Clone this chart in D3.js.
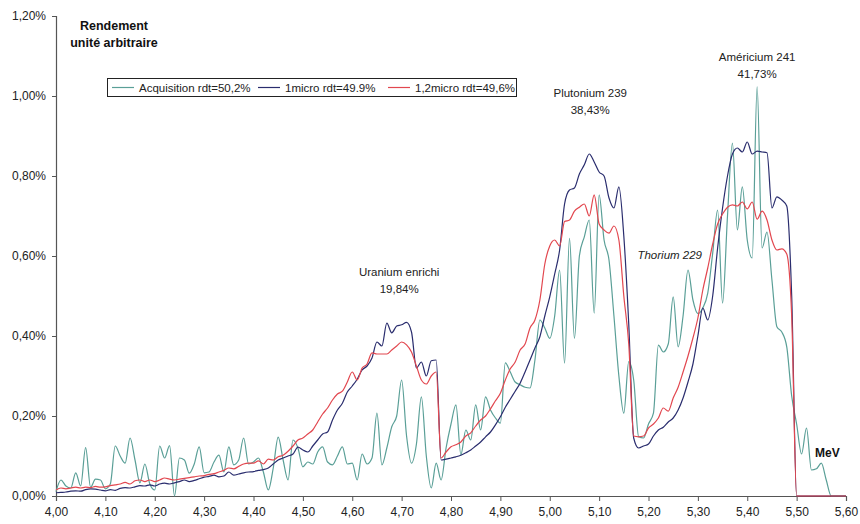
<!DOCTYPE html>
<html><head><meta charset="utf-8">
<script src="https://cdn.jsdelivr.net/npm/d3@7"></script>
<style>
html,body{margin:0;padding:0;background:#fff;}
svg{display:block;font-family:"Liberation Sans",Arial,sans-serif;}
</style></head>
<body>
<svg id="chart" width="860" height="524"></svg>
<script>
// Energy axis (MeV), one sample every 0.01 MeV from 4.00 to 5.60
const energies = d3.range(400, 561).map(d => d / 100);

// Acquisition rdt=50,2%  (% per channel)
const acquisition = [
0.011,0.040,0.025,0.020,0.058,0.025,0.121,0.022,0.042,0.040,
0.018,0.030,0.125,0.100,0.082,0.145,0.090,0.033,0.080,0.030,
0.015,0.125,0.095,0.126,0.000,0.095,0.090,0.057,0.080,0.123,
0.058,0.060,0.085,0.102,0.060,0.123,0.078,0.090,0.145,0.080,
0.085,0.095,0.060,0.015,0.070,0.147,0.090,0.040,0.140,0.120,
0.073,0.085,0.080,0.110,0.123,0.085,0.078,0.100,0.123,0.080,
0.082,0.040,0.105,0.080,0.095,0.207,0.078,0.120,0.173,0.200,
0.290,0.150,0.082,0.130,0.248,0.100,0.020,0.082,0.040,0.120,
0.180,0.228,0.103,0.165,0.140,0.228,0.165,0.248,0.215,0.195,
0.182,0.333,0.310,0.285,0.278,0.272,0.270,0.340,0.440,0.420,
0.394,0.450,0.565,0.332,0.644,0.394,0.600,0.648,0.690,0.457,
0.753,0.640,0.590,0.450,0.300,0.207,0.336,0.290,0.148,0.145,
0.180,0.207,0.377,0.360,0.380,0.498,0.373,0.450,0.565,0.490,
0.456,0.470,0.507,0.607,0.715,0.482,0.700,0.882,0.665,0.773,
0.640,0.595,1.023,0.620,0.660,0.540,0.423,0.410,0.373,0.250,
0.180,0.105,0.170,0.065,0.068,0.082,0.040,0.000,0.000,0.000,
0.000];

// 1micro rdt=49.9%
const micro1 = [
0.008,0.009,0.010,0.012,0.013,0.012,0.016,0.018,0.017,0.015,
0.013,0.016,0.014,0.019,0.021,0.020,0.023,0.026,0.025,0.028,
0.025,0.030,0.032,0.030,0.033,0.036,0.040,0.036,0.039,0.043,
0.047,0.049,0.052,0.048,0.050,0.060,0.052,0.055,0.058,0.060,
0.061,0.064,0.066,0.070,0.080,0.090,0.095,0.100,0.105,0.122,
0.115,0.110,0.125,0.140,0.155,0.160,0.190,0.215,0.232,0.260,
0.275,0.292,0.315,0.325,0.345,0.385,0.375,0.432,0.408,0.425,
0.428,0.434,0.410,0.320,0.335,0.300,0.338,0.340,0.090,0.092,
0.095,0.098,0.102,0.108,0.115,0.125,0.135,0.148,0.160,0.178,
0.198,0.222,0.242,0.262,0.282,0.310,0.340,0.370,0.398,0.450,
0.498,0.555,0.615,0.730,0.765,0.770,0.805,0.828,0.855,0.835,
0.810,0.800,0.745,0.720,0.773,0.650,0.430,0.145,0.120,0.125,
0.130,0.150,0.165,0.172,0.185,0.195,0.215,0.245,0.285,0.330,
0.400,0.470,0.440,0.500,0.620,0.720,0.800,0.855,0.870,0.860,
0.885,0.855,0.862,0.860,0.858,0.720,0.748,0.740,0.725,0.500,
0.000,0.000,0.000,0.000,0.000,0.000,0.000,0.000,0.000,0.000,
0.000];

// 1,2micro rdt=49,6%
const micro12 = [
0.015,0.020,0.018,0.020,0.022,0.020,0.022,0.021,0.024,0.022,
0.023,0.026,0.028,0.030,0.034,0.030,0.038,0.040,0.036,0.040,
0.036,0.040,0.045,0.042,0.040,0.042,0.044,0.046,0.048,0.050,
0.051,0.054,0.056,0.060,0.064,0.070,0.068,0.074,0.080,0.082,
0.082,0.088,0.080,0.092,0.090,0.098,0.102,0.112,0.125,0.140,
0.145,0.155,0.165,0.185,0.205,0.220,0.240,0.255,0.262,0.285,
0.310,0.290,0.320,0.330,0.358,0.355,0.355,0.355,0.365,0.375,
0.385,0.378,0.360,0.325,0.290,0.280,0.300,0.310,0.095,0.110,
0.123,0.128,0.135,0.150,0.158,0.175,0.190,0.200,0.218,0.238,
0.257,0.290,0.318,0.335,0.365,0.380,0.420,0.440,0.490,0.580,
0.625,0.640,0.625,0.686,0.690,0.712,0.722,0.730,0.700,0.753,
0.680,0.665,0.657,0.675,0.640,0.500,0.380,0.150,0.148,0.150,
0.170,0.180,0.195,0.220,0.212,0.245,0.272,0.310,0.350,0.395,
0.445,0.515,0.570,0.630,0.680,0.705,0.722,0.728,0.725,0.735,
0.718,0.735,0.692,0.712,0.690,0.640,0.615,0.618,0.605,0.450,
0.000,0.000,0.000,0.000,0.000,0.000,0.000,0.000,0.000,0.000,
0.000];

const yTicks = [0, 0.2, 0.4, 0.6, 0.8, 1.0, 1.2];
const xTicks = d3.range(400, 561, 10).map(d => d / 100);

const seriesNames = ["Acquisition rdt=50,2%", "1micro rdt=49.9%", "1,2micro rdt=49,6%"];
const seriesColors = ["#5a9f97", "#2a2d6e", "#e2474f"];
const seriesValues = [acquisition, micro1, micro12];

const annotations = [
  {lines:["Uranium enrichi","19,84%"], e:4.695, y:[276,293], italic:false},
  {lines:["Plutonium 239","38,43%"], e:5.082, y:[97,114], italic:false},
  {lines:["Américium 241","41,73%"], e:5.42, y:[61,78], italic:false},
  {lines:["Thorium 229"], e:5.243, y:[259], italic:true}
];

const svg = d3.select("#chart");
const x = d3.scaleLinear().domain([4.0, 5.6]).range([56, 846]);
const y = d3.scaleLinear().domain([0, 1.2]).range([496, 16]);

const fmtX = d => d.toFixed(2).replace(".", ",");
const fmtY = d => d.toFixed(2).replace(".", ",") + "%";

// axes
const yAxis = svg.append("g").attr("transform","translate(56,0)")
  .call(d3.axisLeft(y).tickValues(yTicks).tickFormat(fmtY).tickSize(4).tickPadding(6));
const xAxis = svg.append("g").attr("transform","translate(0,496)")
  .call(d3.axisBottom(x).tickValues(xTicks).tickFormat(fmtX).tickSize(5).tickPadding(4));
[yAxis, xAxis].forEach(g => {
  g.select(".domain").attr("stroke","#555").attr("stroke-width",1.2);
  g.selectAll(".tick line").attr("stroke","#555");
  g.selectAll("text").attr("fill","#222").style("font-size","12px")
   .style("font-family",'"Liberation Sans",Arial,sans-serif');
});
xAxis.selectAll("text").attr("dy","0.95em");

// lines
const line = d3.line()
  .x((d,i) => x(energies[i]))
  .y(d => y(d))
  .curve(d3.curveMonotoneX);

seriesValues.forEach((vals, k) => {
  svg.append("path").datum(vals)
    .attr("fill","none")
    .attr("stroke", seriesColors[k])
    .attr("stroke-width", 1.2)
    .attr("stroke-linejoin","round")
    .attr("d", line);
});

// axis titles
svg.append("text").attr("x",114).attr("y",30).attr("text-anchor","middle")
  .style("font-size","12.5px").style("font-weight","bold").attr("fill","#111").text("Rendement");
svg.append("text").attr("x",114).attr("y",47).attr("text-anchor","middle")
  .style("font-size","12.5px").style("font-weight","bold").attr("fill","#111").text("unité arbitraire");
svg.append("text").attr("x",815).attr("y",457)
  .style("font-size","12px").style("font-weight","bold").attr("fill","#111").text("MeV");

// annotations
annotations.forEach(a => {
  a.lines.forEach((t, i) => {
    svg.append("text").attr("x", x(a.e)).attr("y", a.y[i]).attr("text-anchor","middle")
      .style("font-size","11.5px").style("font-style", a.italic ? "italic" : "normal")
      .attr("fill","#222").text(t);
  });
});

// legend
const lg = svg.append("g");
lg.append("rect").attr("x",107.5).attr("y",78.5).attr("width",409).attr("height",18)
  .attr("fill","#fff").attr("stroke","#222").attr("stroke-width",1);
const legendX = [112, 258, 388];
seriesNames.forEach((n, k) => {
  lg.append("line").attr("x1",legendX[k]).attr("x2",legendX[k]+22)
    .attr("y1",87.5).attr("y2",87.5).attr("stroke",seriesColors[k]).attr("stroke-width",1.2);
  lg.append("text").attr("x",legendX[k]+27).attr("y",91.5)
    .style("font-size","11.5px").attr("fill","#222").text(n);
});
</script>
</body></html>
